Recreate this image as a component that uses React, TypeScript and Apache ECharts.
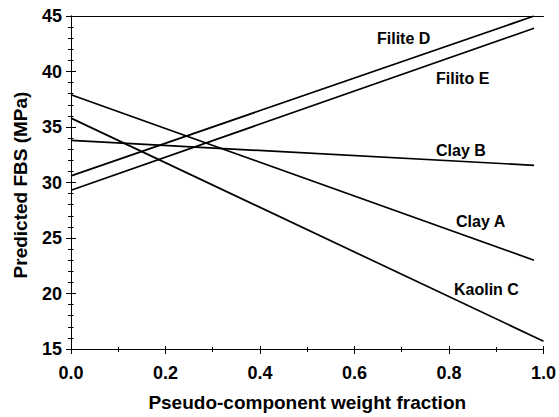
import React, { useEffect, useRef } from "react";
import * as echarts from "echarts";

const seriesNames = ["Filite D", "Filito E", "Clay B", "Clay A", "Kaolin C"];
const filiteD = [[0, 30.6], [0.98, 45.0]];
const filitoE = [[0, 29.3], [0.98, 43.9]];
const clayB = [[0, 33.8], [0.98, 31.55]];
const clayA = [[0, 37.9], [0.98, 23.0]];
const kaolinC = [[0, 35.8], [1.0, 15.7]];
const xTitle = "Pseudo-component weight fraction";
const yTitle = "Predicted FBS (MPa)";

const FONT = "'Liberation Sans', Arial, sans-serif";

export default function App() {
  const ref = useRef<HTMLDivElement>(null);
  useEffect(() => {
    if (!ref.current) return;
    const chart = echarts.init(ref.current, null, { renderer: "svg" });
    const lineStyle = { color: "#000", width: 1.7 };
    const allData = [filiteD, filitoE, clayB, clayA, kaolinC];
    const labelPos: [number, number][] = [
      [377, 38],
      [436, 78],
      [436, 150],
      [456, 221],
      [454, 289],
    ];
    const baseX = {
      type: "value" as const,
      min: 0,
      max: 1,
      interval: 0.2,
      splitLine: { show: false },
    };
    const baseY = {
      type: "value" as const,
      min: 15,
      max: 45,
      interval: 5,
      splitLine: { show: false },
    };
    chart.setOption({
      animation: false,
      grid: { left: 71, right: 14, top: 16, bottom: 62, containLabel: false },
      xAxis: [
        {
          ...baseX,
          position: "bottom",
          axisLine: { show: true, lineStyle: { color: "#000", width: 1 } },
          axisTick: { show: true, inside: false, length: 5, lineStyle: { color: "#000" } },
          minorTick: { show: true, splitNumber: 2, length: 3, lineStyle: { color: "#000" } },
          axisLabel: {
            show: true,
            margin: 15,
            color: "#000",
            fontFamily: FONT,
            fontWeight: "bold",
            fontSize: 18,
            formatter: (v: number) => v.toFixed(1),
          },
          name: xTitle,
          nameLocation: "middle",
          nameGap: 44,
          nameTextStyle: { color: "#000", fontFamily: FONT, fontWeight: "bold", fontSize: 19 },
        },
        {
          ...baseX,
          position: "bottom",
          axisLine: { show: false },
          axisTick: { show: true, inside: true, length: 3, lineStyle: { color: "#000" } },
          minorTick: { show: true, splitNumber: 2, length: 2, lineStyle: { color: "#000" } },
          axisLabel: { show: false },
        },
        {
          ...baseX,
          position: "top",
          axisLine: { show: true, lineStyle: { color: "#000", width: 1 } },
          axisTick: { show: false },
          axisLabel: { show: false },
        },
      ],
      yAxis: [
        {
          ...baseY,
          position: "left",
          axisLine: { show: true, lineStyle: { color: "#000", width: 1 } },
          axisTick: { show: true, inside: false, length: 5, lineStyle: { color: "#000" } },
          minorTick: { show: true, splitNumber: 5, length: 3, lineStyle: { color: "#000" } },
          axisLabel: {
            show: true,
            margin: 9,
            color: "#000",
            fontFamily: FONT,
            fontWeight: "bold",
            fontSize: 18,
          },
        },
        {
          ...baseY,
          position: "left",
          axisLine: { show: false },
          axisTick: { show: true, inside: true, length: 5, lineStyle: { color: "#000" } },
          minorTick: { show: true, splitNumber: 5, length: 2.5, lineStyle: { color: "#000" } },
          axisLabel: { show: false },
        },
        {
          ...baseY,
          position: "right",
          axisLine: { show: true, lineStyle: { color: "#000", width: 1 } },
          axisTick: { show: false },
          axisLabel: { show: false },
        },
      ],
      series: allData.map((d, i) => ({
        name: seriesNames[i],
        type: "line",
        xAxisIndex: 0,
        yAxisIndex: 0,
        data: d,
        showSymbol: false,
        symbol: "none",
        lineStyle,
        clip: true,
      })),
      graphic: [
        {
          type: "text",
          x: 20,
          y: 185,
          rotation: Math.PI / 2,
          style: {
            text: yTitle,
            fill: "#000",
            font: `bold 19px ${FONT}`,
            align: "center",
            verticalAlign: "middle",
          },
        },
        ...seriesNames.map((n, i) => ({
          type: "text",
          x: labelPos[i][0],
          y: labelPos[i][1],
          style: {
            text: n,
            fill: "#000",
            font: `bold 16px ${FONT}`,
            align: "left",
            verticalAlign: "middle",
          },
        })),
      ],
    });
    return () => chart.dispose();
  }, []);
  return (
    <div
      ref={ref}
      style={{ position: "absolute", left: 0, top: 0, width: 559, height: 417 }}
    />
  );
}
